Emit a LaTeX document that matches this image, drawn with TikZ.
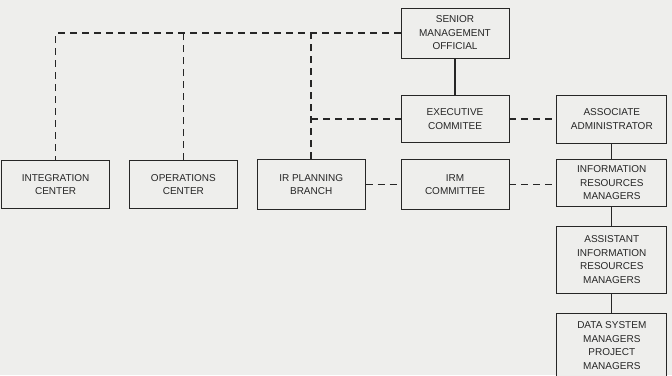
\documentclass[tikz,border=0pt]{standalone}
\usepackage{xcolor}
\usepackage{fontspec}
\setmainfont{Liberation Sans}
\usepackage{tikz}
\usetikzlibrary{positioning}
\definecolor{paper}{HTML}{EEEEEC}
\definecolor{ink}{HTML}{262626}

\begin{document}
\begin{tikzpicture}[
    x=1pt, y=1pt,
    node distance=16pt and 19pt,
    box/.style={rectangle, draw=ink, line width=0.8pt, fill=paper, text=ink,
                minimum width=108pt, minimum height=48pt, align=center,
                inner sep=2pt, font=\fontsize{10}{13.5}\selectfont},
    widebox/.style={box, minimum width=110pt},
    solidline/.style={draw=ink, line width=1.3pt},
    dashline/.style={draw=ink, line width=1.7pt, dash pattern=on 7pt off 5pt}
]

\fill[paper] (0,0) rectangle (672,-375);
\useasboundingbox (0,0) rectangle (672,-375);

% management column
\node[box, minimum height=50pt] (senior) at (455,-33) {SENIOR\\MANAGEMENT\\OFFICIAL};
\node[box, minimum height=47pt, below=37pt of senior] (exec) {EXECUTIVE\\COMMITEE};
\node[box, minimum height=50pt, below=of exec] (irm) {IRM\\COMMITTEE};

% right column
\node[widebox, right=47pt of exec] (assoc) {ASSOCIATE\\ADMINISTRATOR};
\node[widebox, minimum height=47pt, below=15pt of assoc] (infores) {INFORMATION\\RESOURCES\\MANAGERS};
\node[widebox, minimum height=67pt, below=19pt of infores] (assist) {ASSISTANT\\INFORMATION\\RESOURCES\\MANAGERS};
\node[widebox, minimum height=64pt, below=20pt of assist] (datasys) {DATA SYSTEM\\MANAGERS\\PROJECT\\MANAGERS};

% bottom row
\node[box, minimum height=50pt, left=35pt of irm] (irplan) {IR PLANNING\\BRANCH};
\node[box, left=of irplan] (opscen) {OPERATIONS\\CENTER};
\node[box, left=of opscen] (intcen) {INTEGRATION\\CENTER};

\draw[solidline] (senior) -- (exec);
\draw[solidline] (assoc) -- (infores);
\draw[solidline] (infores) -- (assist);
\draw[solidline] (assist) -- (datasys);

\draw[dashline] (senior.west) -| (intcen.north);
\draw[dashline] (opscen.north) -- (opscen.north |- senior.west);
\draw[dashline] (irplan.north) -- (irplan.north |- senior.west);
\draw[dashline] (irplan.north |- exec.west) -- (exec.west);
\draw[dashline] (exec) -- (assoc);
\draw[dashline] (irplan) -- (irm);
\draw[dashline] (irm.east) -- (irm.east -| infores.west);

\end{tikzpicture}
\end{document}
